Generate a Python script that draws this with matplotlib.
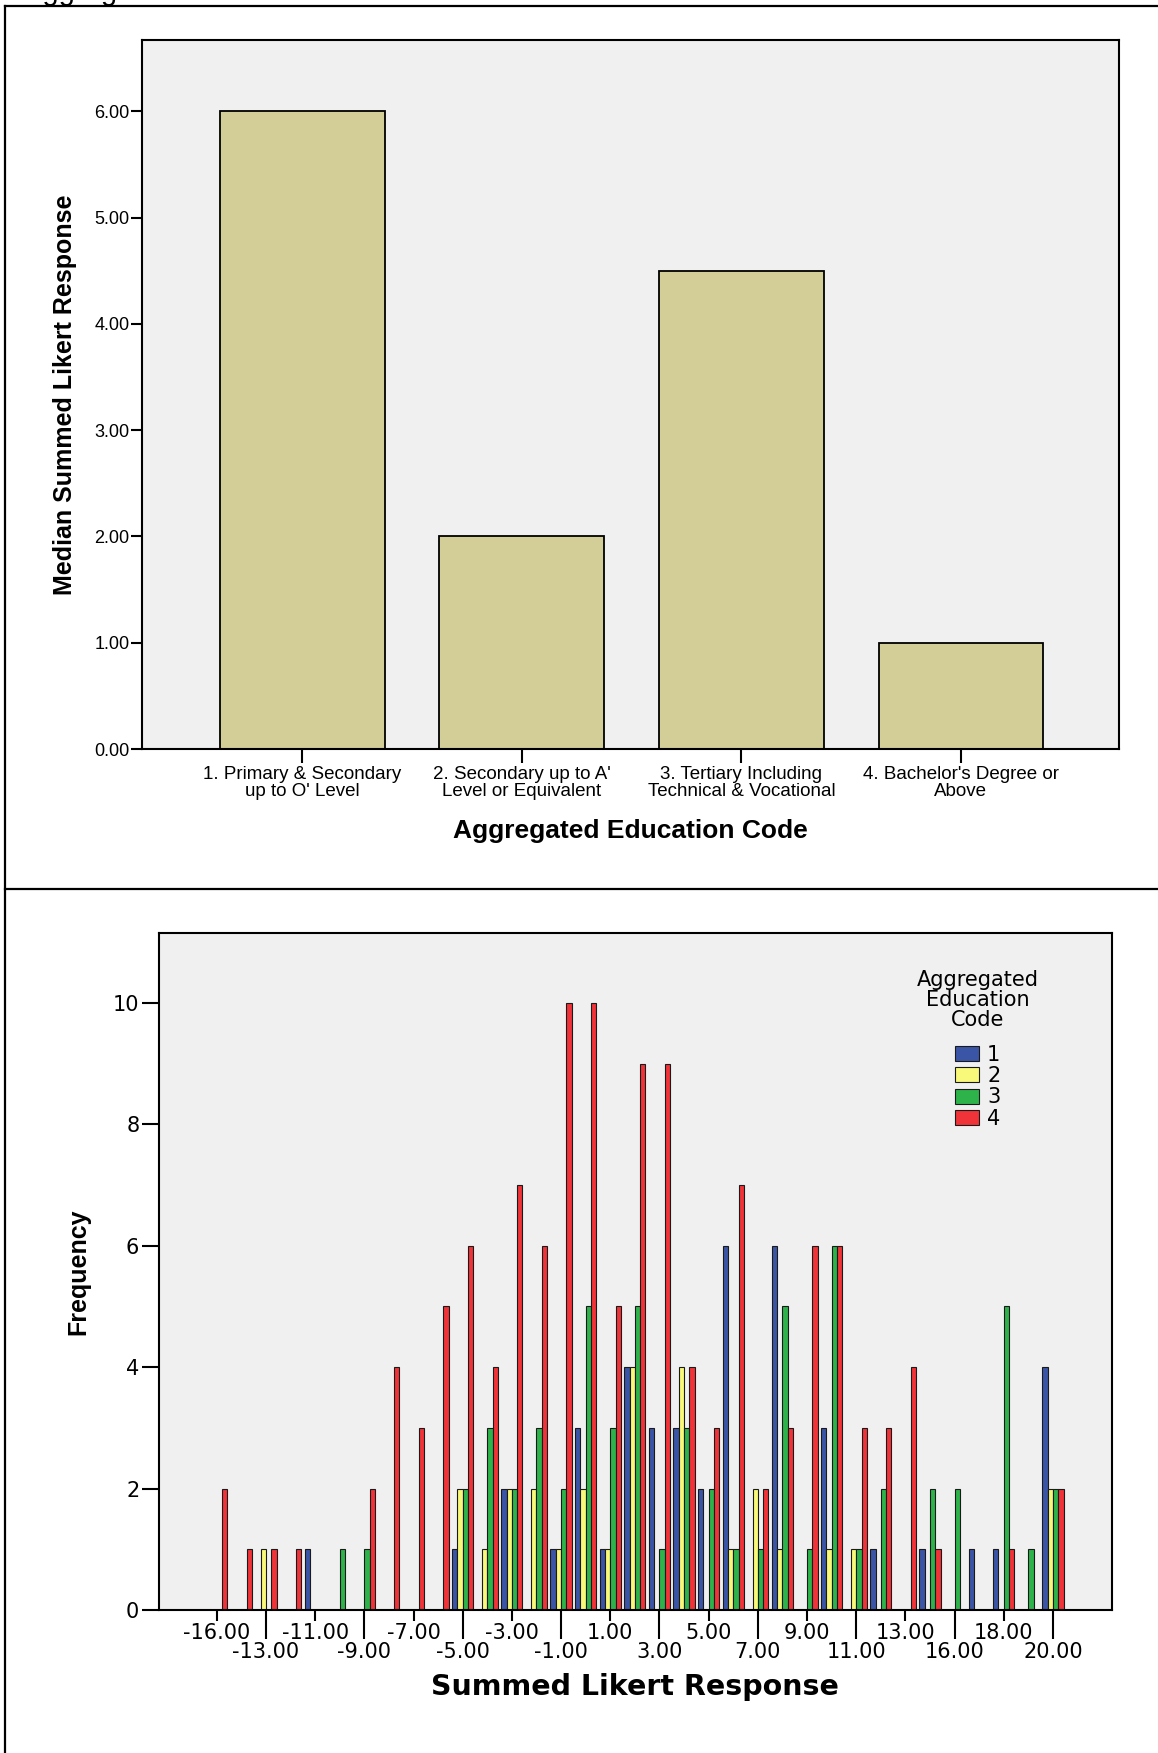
import numpy as np
import matplotlib.pyplot as plt
from matplotlib.lines import Line2D
from matplotlib import font_manager

plt.rcParams['font.family'] = ['Liberation Sans', 'DejaVu Sans']

# top panel: median summed likert response by education group
edu_labels = ["1. Primary & Secondary\nup to O' Level",
              "2. Secondary up to A'\nLevel or Equivalent",
              "3. Tertiary Including\nTechnical & Vocational",
              "4. Bachelor's Degree or\nAbove"]
median_resp = [6.0, 2.0, 4.5, 1.0]

# bottom panel: frequency of each summed likert value, per education code
likert_vals = [-16, -14, -13, -12, -11, -10, -9, -8, -7, -6, -5, -4, -3, -2, -1,
               0, 1, 2, 3, 4, 5, 6, 7, 8, 9, 10, 11, 12, 13, 15, 16, 17, 18, 19, 20]
freq_code1 = [0, 0, 0, 0, 1, 0, 0, 0, 0, 0, 1, 0, 2, 0, 1,
              3, 1, 4, 3, 3, 2, 6, 0, 6, 0, 3, 0, 1, 0, 1, 0, 1, 1, 0, 4]
freq_code2 = [0, 0, 1, 0, 0, 0, 0, 0, 0, 0, 2, 1, 2, 2, 1,
              2, 1, 4, 0, 4, 0, 1, 2, 1, 0, 1, 1, 0, 0, 0, 0, 0, 0, 0, 2]
freq_code3 = [0, 0, 0, 0, 0, 1, 1, 0, 0, 0, 2, 3, 2, 3, 2,
              5, 3, 5, 1, 3, 2, 1, 1, 5, 1, 6, 1, 2, 0, 2, 2, 0, 5, 1, 2]
freq_code4 = [2, 1, 1, 1, 0, 0, 2, 4, 3, 5, 6, 4, 7, 6, 10,
              10, 5, 9, 9, 4, 3, 7, 2, 3, 6, 6, 3, 3, 4, 1, 0, 0, 1, 0, 2]
code_names = ['1', '2', '3', '4']
code_colors = ['#3b55a6', '#f8f87a', '#2eb34b', '#ef3338']

W, H = 1158, 1753


def px_rect(l, t, r, b):
    return [l / W, 1 - b / H, (r - l) / W, (b - t) / H]


# narrow bold for the "Frequency" label if the font is there
try:
    font_manager.findfont(font_manager.FontProperties(family='Liberation Sans Narrow',
                                                      weight='bold'),
                          fallback_to_default=False)
    freq_family, freq_size = 'Liberation Sans Narrow', 21
except ValueError:
    freq_family, freq_size = 'Liberation Sans', 18

fig = plt.figure(figsize=(W / 100, H / 100), dpi=100)

# frame lines of the output page
for xs, ys in [([5, 5], [6, H]), ([5, W], [6, 6]), ([5, W], [889, 889])]:
    fig.add_artist(Line2D([x / W for x in xs], [1 - y / H for y in ys],
                          transform=fig.transFigure, color='black', lw=1.6))
fig.text(23 / W, 1.0, 'Aggregated Education Code', fontsize=21, va='baseline')

# ---- top chart
ax1 = fig.add_axes(px_rect(142, 40, 1119, 749))
ax1.set_facecolor('#f0f0f0')
ax1.bar(np.arange(len(median_resp)), median_resp, width=0.75, color='#d3ce97',
        edgecolor='black', linewidth=1.3)
ax1.set_xlim(-0.73, 3.72)
ax1.set_ylim(0, 6.67)
yt = np.arange(0, 7)
ax1.set_yticks(yt, [f'{v:.2f}' for v in yt])
ax1.set_xticks(np.arange(len(edu_labels)), edu_labels)
for t in ax1.get_xticklabels():
    t.set_linespacing(1.0)
ax1.tick_params(axis='x', length=10, width=1.5, pad=2, labelsize=13.5)
ax1.tick_params(axis='y', length=8, width=1.5, pad=1, labelsize=13)
for s in ax1.spines.values():
    s.set_linewidth(1.5)
ax1.set_xlabel('Aggregated Education Code', fontsize=19, fontweight='bold')
ax1.xaxis.set_label_coords(0.5, -0.115)
ax1.xaxis.label.set_va('center')
ax1.set_ylabel('Median Summed Likert Response', fontsize=18, fontweight='bold')
ax1.yaxis.set_label_coords(-0.0788, 0.5)
ax1.yaxis.label.set_va('center')

# ---- bottom chart
ax2 = fig.add_axes(px_rect(158.7, 933, 1112, 1610))
ax2.set_facecolor('#f0f0f0')
x = np.arange(len(likert_vals))
bw = 0.215
series = [freq_code1, freq_code2, freq_code3, freq_code4]
for k, (counts, col, name) in enumerate(zip(series, code_colors, code_names)):
    counts = np.array(counts)
    keep = counts > 0
    ax2.bar(x[keep] + (k - 1.5) * bw, counts[keep], width=bw, color=col,
            edgecolor='#1a1a1a', linewidth=0.8, label=name)
ax2.set_xlim(-2.36, 36.4)
ax2.set_ylim(0, 11.15)

top_row = x[0::4]
bot_row = x[2::4]
ax2.set_xticks(top_row, [f'{likert_vals[i]:.2f}' for i in top_row])
ax2.set_xticks(bot_row, [f'{likert_vals[i]:.2f}' for i in bot_row], minor=True)
ax2.tick_params(axis='x', which='major', length=7.7, width=1.5, pad=2, labelsize=15)
ax2.tick_params(axis='x', which='minor', length=21, width=1.5, pad=2, labelsize=15)
yt2 = np.arange(0, 11, 2)
ax2.set_yticks(yt2, [str(v) for v in yt2])
ax2.tick_params(axis='y', length=12, width=1.5, pad=2, labelsize=15)
for t in ax2.get_xticklabels() + ax2.get_xticklabels(minor=True) + ax2.get_yticklabels():
    t.set_fontfamily('DejaVu Sans')
for s in ax2.spines.values():
    s.set_linewidth(1.5)

ax2.set_xlabel('Summed Likert Response', fontsize=20.5, fontweight='bold',
               family='DejaVu Sans')
ax2.xaxis.set_label_coords(0.5, -0.1137)
ax2.xaxis.label.set_va('center')
ax2.set_ylabel('Frequency', fontsize=freq_size, fontweight='bold', family=freq_family)
ax2.yaxis.set_label_coords(-0.0847, 0.5)
ax2.yaxis.label.set_va('center')

# legend: title as its own text, entries below it
ax2.text(0.859, 0.9004, 'Aggregated\nEducation\nCode', transform=ax2.transAxes,
         ha='center', va='center', multialignment='center', linespacing=1.0,
         family='DejaVu Sans', fontsize=15)
ax2.legend(loc='upper center', bbox_to_anchor=(0.859, 0.8506), frameon=False,
           prop={'family': 'DejaVu Sans', 'size': 15},
           handlelength=1.15, handleheight=0.72, labelspacing=0.07,
           handletextpad=0.4, borderpad=0)

fig.savefig('out.png', dpi=100)
